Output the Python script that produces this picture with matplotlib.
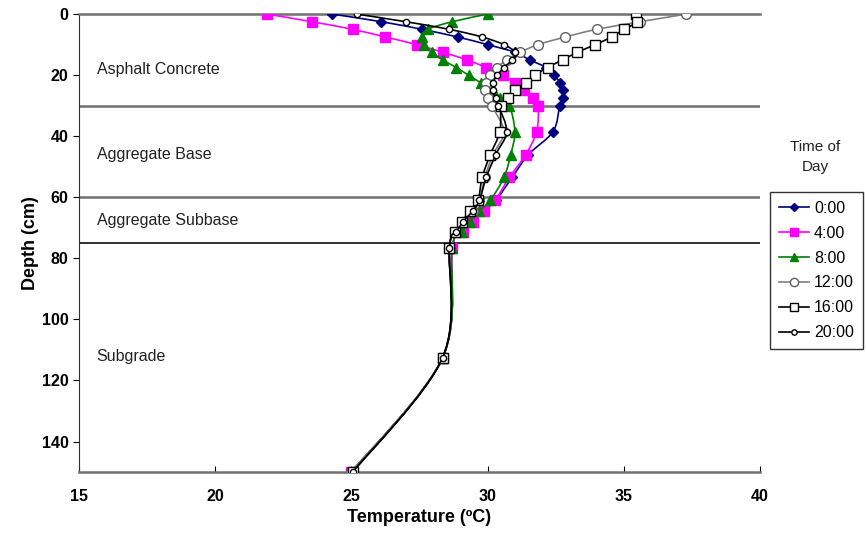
import numpy as np
import matplotlib
matplotlib.use("Agg")
import matplotlib.pyplot as plt
from matplotlib.path import Path
from matplotlib.patches import PathPatch
from matplotlib.lines import Line2D

plt.rcParams['font.family'] = ['Liberation Sans', 'DejaVu Sans']

# depth of the sensors (cm)
depth = [0, 2.5, 5, 7.5, 10, 12.5, 15, 17.5, 20, 22.5, 25, 27.5, 30,
         38.5, 46, 53.5, 61, 64.5, 68, 71.5, 76.5, 112.5, 150]

# temperature (deg C) for each time of day
t_0000 = [24.3, 26.1, 27.6, 28.9, 30.0, 31.0, 31.55, 32.15, 32.45, 32.65, 32.75, 32.75, 32.65,
          32.4, 31.5, 30.9, 30.3, 29.85, 29.45, 29.1, 28.7, 28.35, 25.0]
t_0400 = [21.9, 23.55, 25.05, 26.25, 27.4, 28.35, 29.25, 29.95, 30.55, 31.0, 31.35, 31.65, 31.85,
          31.8, 31.4, 30.8, 30.27, 29.85, 29.45, 29.1, 28.7, 28.35, 25.0]
t_0800 = [30.0, 28.7, 27.8, 27.6, 27.65, 27.95, 28.35, 28.85, 29.3, 29.75, 30.2, 30.45, 30.8,
          31.0, 30.85, 30.6, 30.1, 29.7, 29.35, 29.05, 28.7, 28.35, 25.0]
t_1200 = [37.3, 35.6, 34.0, 32.85, 31.85, 31.2, 30.7, 30.35, 30.1, 29.95, 29.9, 30.0, 30.15,
          30.6, 30.2, 29.9, 29.7, 29.45, 29.1, 28.85, 28.6, 28.35, 25.0]
t_1600 = [35.45, 35.5, 35.0, 34.55, 33.95, 33.3, 32.75, 32.2, 31.75, 31.4, 31.0, 30.75, 30.5,
          30.45, 30.1, 29.8, 29.65, 29.35, 29.05, 28.8, 28.6, 28.35, 25.05]
t_2000 = [25.2, 27.0, 28.6, 29.8, 30.6, 31.0, 30.9, 30.6, 30.35, 30.2, 30.2, 30.3, 30.4,
          30.7, 30.3, 29.95, 29.7, 29.45, 29.1, 28.85, 28.6, 28.35, 25.05]

labels = ["0:00", "4:00", "8:00", "12:00", "16:00", "20:00"]
series = [t_0000, t_0400, t_0800, t_1200, t_1600, t_2000]

styles = [
    dict(color="#000080", marker="D", ms=5, mfc="#000080", mec="#000080"),
    dict(color="#FF00FF", marker="s", ms=7, mfc="#FF00FF", mec="#FF00FF"),
    dict(color="#008000", marker="^", ms=7, mfc="#008000", mec="#008000"),
    dict(color="#808080", marker="o", ms=7, mfc="white", mec="#606060"),
    dict(color="black", marker="s", ms=7, mfc="white", mec="black"),
    dict(color="black", marker="o", ms=4.5, mfc="white", mec="black"),
]

layers = [("Asphalt Concrete", 18), ("Aggregate Base", 46),
          ("Aggregate Subbase", 67.5), ("Subgrade", 112)]


def smooth_path(x, y):
    # excel style smoothed line (catmull-rom bezier)
    pts = np.column_stack([x, y]).astype(float)
    n = len(pts)
    verts = [pts[0]]
    codes = [Path.MOVETO]
    for i in range(n - 1):
        p0 = pts[i - 1] if i > 0 else pts[i]
        p1 = pts[i]
        p2 = pts[i + 1]
        p3 = pts[i + 2] if i + 2 < n else pts[i + 1]
        verts += [p1 + (p2 - p0) / 6, p2 - (p3 - p1) / 6, p2]
        codes += [Path.CURVE4] * 3
    return Path(verts, codes)


fig = plt.figure(figsize=(8.66, 5.42), dpi=100)
ax = fig.add_axes([0.0912, 0.129, 0.7864, 0.845])

for k, (temps, st) in enumerate(zip(series, styles)):
    ax.add_patch(PathPatch(smooth_path(temps, depth), facecolor="none",
                           edgecolor=st["color"], lw=1.2, zorder=3 + k))
    ax.plot(temps, depth, linestyle="none", marker=st["marker"], ms=st["ms"],
            mfc=st["mfc"], mec=st["mec"], mew=1.0, zorder=3 + k)

for d in (30, 60):
    ax.axhline(d, color="#707070", lw=1.8, zorder=2)
ax.axhline(75, color="#202020", lw=1.3, zorder=2)

for name, d in layers:
    ax.text(15.65, d, name, fontsize=11.5, va="center", ha="left", color="#222222")

ax.set_xlim(15, 40)
ax.set_ylim(150, 0)
ax.set_xticks([15, 20, 25, 30, 35, 40])
ax.set_yticks([0, 20, 40, 60, 80, 100, 120, 140])
ax.tick_params(axis="x", direction="in", length=4, labelsize=11.5, pad=12)
ax.tick_params(axis="y", direction="out", length=4, labelsize=11.5)
for lab in ax.get_xticklabels() + ax.get_yticklabels():
    lab.set_fontweight("bold")

ax.spines["right"].set_visible(False)
ax.spines["top"].set_color("#707070")
ax.spines["top"].set_linewidth(1.8)
ax.spines["bottom"].set_color("#707070")
ax.spines["bottom"].set_linewidth(1.8)
ax.spines["left"].set_color("#303030")

ax.set_xlabel("Temperature (ºC)", fontsize=13, fontweight="bold", labelpad=4)
ax.set_ylabel("Depth (cm)", fontsize=13, fontweight="bold", labelpad=2)

handles = [Line2D([], [], color=st["color"], marker=st["marker"], ms=st["ms"] * 0.85,
                  mfc=st["mfc"], mec=st["mec"], lw=1.2) for st in styles]
fig.legend(handles, labels, loc="upper left", bbox_to_anchor=(770 / 866, 1 - 192 / 542),
           frameon=True, fancybox=False, edgecolor="black", fontsize=11.5,
           handlelength=1.9, handletextpad=0.3, borderpad=0.55, labelspacing=0.62,
           borderaxespad=0)
fig.text(815 / 866, 1 - 157 / 542, "Time of\nDay", ha="center", va="center",
         fontsize=11, linespacing=1.5, color="#222222")

fig.savefig("out.png", dpi=100)
